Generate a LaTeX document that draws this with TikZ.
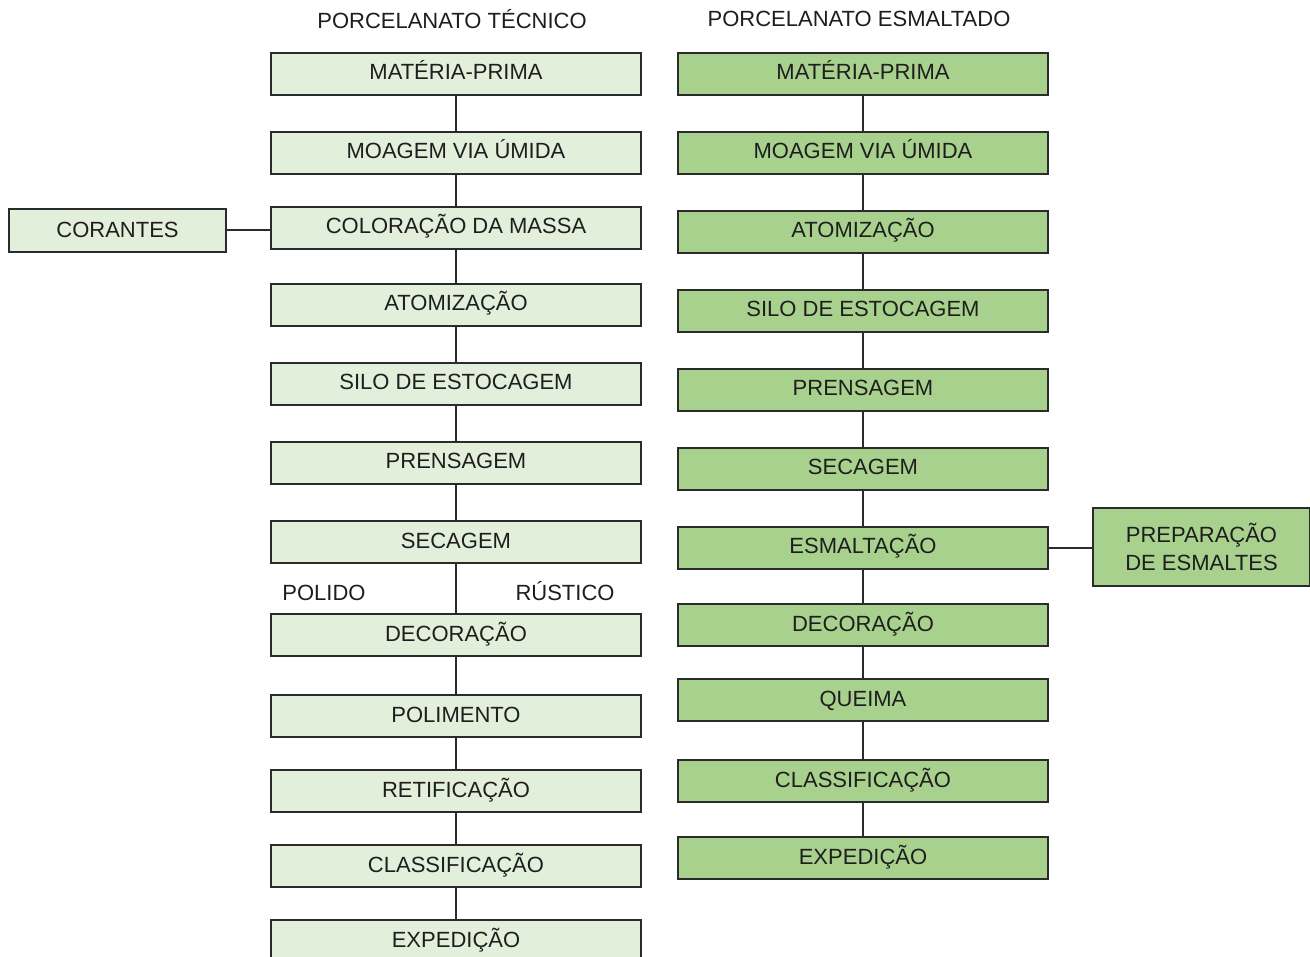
\documentclass[tikz,border=0pt]{standalone}
\usepackage{fontspec}
\setmainfont{Liberation Sans}
\definecolor{lightg}{HTML}{E2EFDA}
\definecolor{darkg}{HTML}{A9D18E}
\definecolor{txt}{HTML}{1E1E1E}
\definecolor{edge}{HTML}{2B2B2B}
\begin{document}
\begin{tikzpicture}[x=1pt,y=-1pt,
  base/.style={draw=edge,line width=2pt,minimum height=42pt,inner sep=0pt,text=txt,font=\fontsize{22}{26}\selectfont,text height=16pt,text depth=4pt,anchor=north west,align=center},
  lbox/.style={base,fill=lightg,minimum width=370pt},
  rbox/.style={base,fill=darkg,minimum width=370pt},
  lbl/.style={text=txt,font=\fontsize{22}{26}\selectfont,text height=16pt,text depth=0pt,inner sep=0pt},
  conn/.style={draw=edge,line width=2pt}]
\useasboundingbox (0,0) rectangle (1310,957);
\fill[white] (0,0) rectangle (1310,957);
\node[lbl] (t1) at (452,21) {PORCELANATO TÉCNICO};
\node[lbl] (t2) at (859,19) {PORCELANATO ESMALTADO};
% left column
\node[lbox] (l1) at (270,52) {MATÉRIA-PRIMA};
\node[lbox] (l2) at (270,131) {MOAGEM VIA ÚMIDA};
\node[lbox] (l3) at (270,206) {COLORAÇÃO DA MASSA};
\node[lbox] (l4) at (270,283) {ATOMIZAÇÃO};
\node[lbox] (l5) at (270,362) {SILO DE ESTOCAGEM};
\node[lbox] (l6) at (270,441) {PRENSAGEM};
\node[lbox] (l7) at (270,520) {SECAGEM};
\node[lbox] (l8) at (270,613) {DECORAÇÃO};
\node[lbox] (l9) at (270,694) {POLIMENTO};
\node[lbox] (l10) at (270,769) {RETIFICAÇÃO};
\node[lbox] (l11) at (270,844) {CLASSIFICAÇÃO};
\node[lbox] (l12) at (270,919) {EXPEDIÇÃO};
\node[lbox,minimum width=217pt,minimum height=43pt,text depth=2pt] (cor) at (8,208) {CORANTES};
\node[lbl] (pol) at (324,592) {POLIDO};
\node[lbl] (rus) at (565,592) {RÚSTICO};
% right column
\node[rbox] (r1) at (677,52) {MATÉRIA-PRIMA};
\node[rbox] (r2) at (677,131) {MOAGEM VIA ÚMIDA};
\node[rbox] (r3) at (677,210) {ATOMIZAÇÃO};
\node[rbox] (r4) at (677,289) {SILO DE ESTOCAGEM};
\node[rbox] (r5) at (677,368) {PRENSAGEM};
\node[rbox] (r6) at (677,447) {SECAGEM};
\node[rbox] (r7) at (677,526) {ESMALTAÇÃO};
\node[rbox] (r8) at (677,603) {DECORAÇÃO};
\node[rbox] (r9) at (677,678) {QUEIMA};
\node[rbox] (r10) at (677,759) {CLASSIFICAÇÃO};
\node[rbox] (r11) at (677,836) {EXPEDIÇÃO};
\node[rbox,minimum width=217pt,minimum height=78pt,text height=,text depth=,font=\fontsize{22}{28}\selectfont] (prep) at (1092,507) {PREPARAÇÃO\\DE ESMALTES};
% connectors
\foreach \a/\b in {1/2,2/3,3/4,4/5,5/6,6/7,7/8,8/9,9/10,10/11,11/12}
  \draw[conn] (l\a.south) -- (l\b.north);
\foreach \a/\b in {1/2,2/3,3/4,4/5,5/6,6/7,7/8,8/9,9/10,10/11}
  \draw[conn] (r\a.south) -- (r\b.north);
\draw[conn] (cor.east) -- (cor.east -| l3.west);
\draw[conn] (r7.east) -- (r7.east -| prep.west);
\end{tikzpicture}
\end{document}
